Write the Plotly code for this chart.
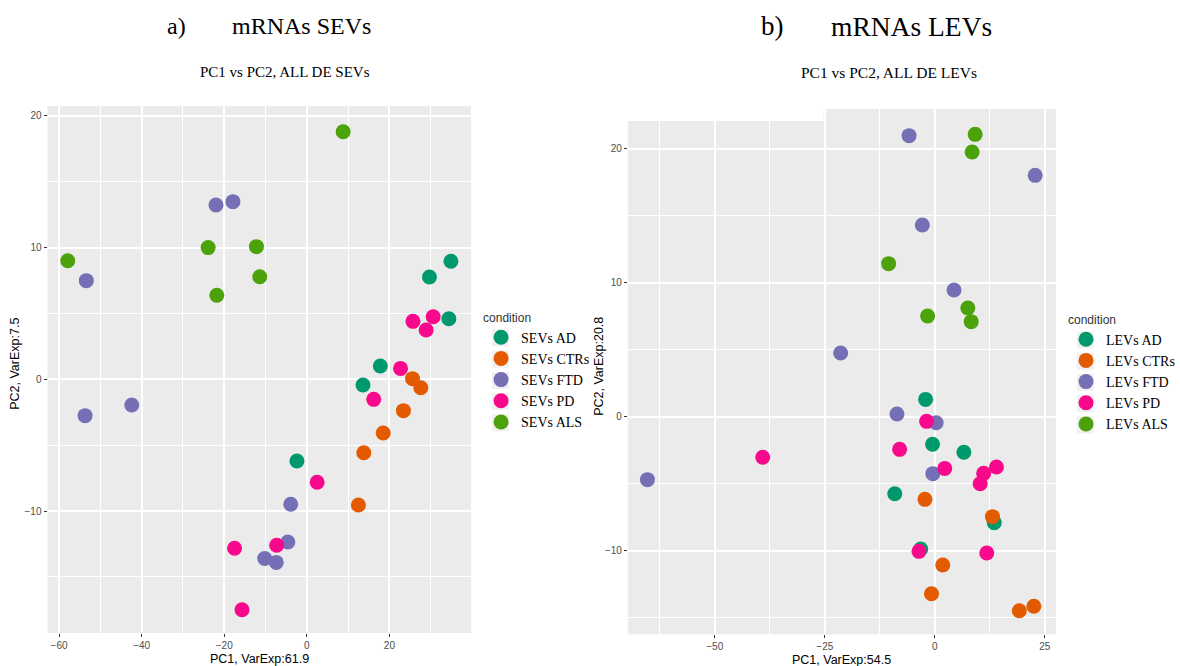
import plotly.graph_objects as go

W, H = 1180, 666

# ---------------- data ----------------
conditions = ["AD", "CTRs", "FTD", "PD", "ALS"]
colors = ["#00996E", "#E45A00", "#7570B5", "#F8088A", "#4CA20A"]

# panel a) SEVs
sev_ad_pc1 = [34.9, 29.7, 34.4, 17.8, 13.6, -2.4]
sev_ad_pc2 = [8.96, 7.77, 4.6, 1.01, -0.43, -6.2]
sev_ctr_pc1 = [25.6, 27.6, 23.4, 18.5, 13.8, 12.5]
sev_ctr_pc2 = [0.05, -0.64, -2.38, -4.08, -5.57, -9.54]
sev_ftd_pc1 = [-22.0, -17.9, -53.4, -53.7, -42.4, -3.9, -4.6, -10.2, -7.4]
sev_ftd_pc2 = [13.23, 13.49, 7.49, -2.76, -1.95, -9.49, -12.35, -13.6, -13.9]
sev_pd_pc1 = [25.7, 30.6, 28.9, 22.7, 16.2, 2.5, -7.3, -17.5, -15.7]
sev_pd_pc2 = [4.4, 4.75, 3.74, 0.83, -1.52, -7.82, -12.6, -12.83, -17.5]
sev_als_pc1 = [8.8, -23.9, -12.2, -11.4, -21.8, -57.9]
sev_als_pc2 = [18.8, 10.0, 10.07, 7.79, 6.38, 9.0]

# panel b) LEVs
lev_ad_pc1 = [-2.1, -0.52, 6.6, -9.1, 13.5, -3.2]
lev_ad_pc2 = [1.3, -2.05, -2.65, -5.74, -7.9, -9.87]
lev_ctr_pc1 = [-2.25, 13.1, 1.8, -0.75, 19.2, 22.5]
lev_ctr_pc2 = [-6.16, -7.45, -11.06, -13.2, -14.47, -14.14]
lev_ftd_pc1 = [-5.85, 22.8, -2.84, 4.36, -21.4, -8.6, 0.3, -0.45, -65.3]
lev_ftd_pc2 = [20.98, 18.02, 14.31, 9.46, 4.76, 0.21, -0.44, -4.24, -4.69]
lev_pd_pc1 = [-1.87, -8.0, -39.1, 2.25, 14.0, 11.1, 10.3, -3.6, 11.8]
lev_pd_pc2 = [-0.34, -2.43, -3.02, -3.85, -3.75, -4.22, -4.99, -10.04, -10.16]
lev_als_pc1 = [9.16, 8.48, -10.5, 7.5, 8.26, -1.64]
lev_als_pc2 = [21.08, 19.76, 11.43, 8.12, 7.1, 7.52]

sev_pc1 = [sev_ad_pc1, sev_ctr_pc1, sev_ftd_pc1, sev_pd_pc1, sev_als_pc1]
sev_pc2 = [sev_ad_pc2, sev_ctr_pc2, sev_ftd_pc2, sev_pd_pc2, sev_als_pc2]
lev_pc1 = [lev_ad_pc1, lev_ctr_pc1, lev_ftd_pc1, lev_pd_pc1, lev_als_pc1]
lev_pc2 = [lev_ad_pc2, lev_ctr_pc2, lev_ftd_pc2, lev_pd_pc2, lev_als_pc2]

# ---------------- figure ----------------
fig = go.Figure()
MS = 15
for i, c in enumerate(conditions):
    fig.add_trace(go.Scatter(
        x=sev_pc1[i], y=sev_pc2[i], mode="markers", name="SEVs " + c,
        marker=dict(size=MS, color=colors[i], line=dict(width=0)),
        xaxis="x", yaxis="y", legend="legend"))
for i, c in enumerate(conditions):
    fig.add_trace(go.Scatter(
        x=lev_pc1[i], y=lev_pc2[i], mode="markers", name="LEVs " + c,
        marker=dict(size=MS, color=colors[i], line=dict(width=0)),
        xaxis="x2", yaxis="y2", legend="legend2"))

tickfont = dict(family="Liberation Sans, Arial, sans-serif", size=10, color="#4D4D4D")
common = dict(showgrid=True, gridcolor="white", gridwidth=1.6, zeroline=False,
              showline=False, ticks="outside", ticklen=3, tickwidth=1,
              tickcolor="#333333", tickfont=tickfont)

def minor(d):
    return dict(dtick=d, showgrid=True, gridcolor="white", gridwidth=0.8, ticks="")

L_x0, L_x1, L_yt, L_yb = 48, 476, 106, 633
R_x0, R_x1, R_yt, R_yb = 634.3, 1066.7, 109, 634.3

legend_title_font = dict(family="Liberation Sans, Arial, sans-serif", size=12, color="#333333")
legend_font = dict(family="Liberation Serif, Times New Roman, serif", size=14, color="black")

fig.update_layout(
    width=W, height=H, margin=dict(l=0, r=0, t=0, b=0),
    paper_bgcolor="white", plot_bgcolor="#EBEBEB",
    xaxis=dict(domain=[L_x0 / W, L_x1 / W], range=[-62.8, 39.8], tick0=0, dtick=20,
               minor=minor(10), anchor="y", **common),
    yaxis=dict(domain=[1 - L_yb / H, 1 - L_yt / H], range=[-19.26, 20.75], tick0=0, dtick=10,
               minor=minor(5), anchor="x", **common),
    xaxis2=dict(domain=[R_x0 / W, R_x1 / W], range=[-69.75, 27.5], tick0=0, dtick=25,
                minor=minor(12.5), anchor="y2", **common),
    yaxis2=dict(domain=[1 - R_yb / H, 1 - R_yt / H], range=[-16.23, 22.97], tick0=0, dtick=10,
                minor=minor(5), anchor="x2", **common),
    legend=dict(
        title=dict(text="condition", font=legend_title_font),
        font=legend_font,
        x=486 / W, y=1 - 306 / H, xanchor="left", yanchor="top",
        bgcolor="rgba(0,0,0,0)", tracegroupgap=0),
    legend2=dict(
        title=dict(text="condition", font=legend_title_font),
        font=legend_font,
        x=1077 / W, y=1 - 308 / H, xanchor="left", yanchor="top",
        bgcolor="rgba(0,0,0,0)", tracegroupgap=0),
    showlegend=True,
)

# white patch over top-left of panel b (as in the reference)
fig.add_shape(type="rect", xref="paper", yref="paper",
              x0=(R_x0 - 1) / W, x1=832 / W, y0=1 - 121 / H, y1=1 - 104 / H,
              fillcolor="white", line=dict(width=0), layer="above")

# light grey legend key backgrounds (ggplot style)
KEY = 17
STEP = 21.2
for cx, cy0 in [(505.5, 338), (1096.5, 340)]:
    for i in range(len(conditions)):
        cy = cy0 + STEP * i
        fig.add_shape(type="rect", xref="paper", yref="paper",
                      x0=(cx - KEY / 2) / W, x1=(cx + KEY / 2) / W,
                      y0=1 - (cy + KEY / 2) / H, y1=1 - (cy - KEY / 2) / H,
                      fillcolor="#F0F0F0", line=dict(width=0), layer="below")

serif = "Liberation Serif, Times New Roman, serif"
sans = "Liberation Sans, Arial, sans-serif"
ann = []
def text(t, x, y, size, fam, xanchor="left", angle=0, color="black"):
    ann.append(dict(text=t, x=x / W, y=1 - y / H, xref="paper", yref="paper",
                    xanchor=xanchor, yanchor="middle", showarrow=False, textangle=angle,
                    font=dict(family=fam, size=size, color=color)))

text("a)", 167, 26, 24, serif)
text("mRNAs SEVs", 232, 26, 24, serif)
text("PC1 vs PC2, ALL DE SEVs", 200, 72, 15, serif)
text("b)", 767, 26, 27, serif)
text("mRNAs LEVs", 838, 26, 27.5, serif)
text("PC1 vs PC2, ALL DE LEVs", 807, 72, 15.5, serif)

text("PC1, VarExp:61.9", (L_x0 + L_x1) / 2, 659, 12.5, sans, xanchor="center")
text("PC1, VarExp:54.5", (R_x0 + R_x1) / 2, 660, 12.5, sans, xanchor="center")
text("PC2, VarExp:7.5", 15, 364, 12.5, sans, xanchor="center", angle=-90)
text("PC2, VarExp:20.8", 605, 366, 12.5, sans, xanchor="center", angle=-90)
fig.update_layout(annotations=ann)

fig.write_html("out.html")
